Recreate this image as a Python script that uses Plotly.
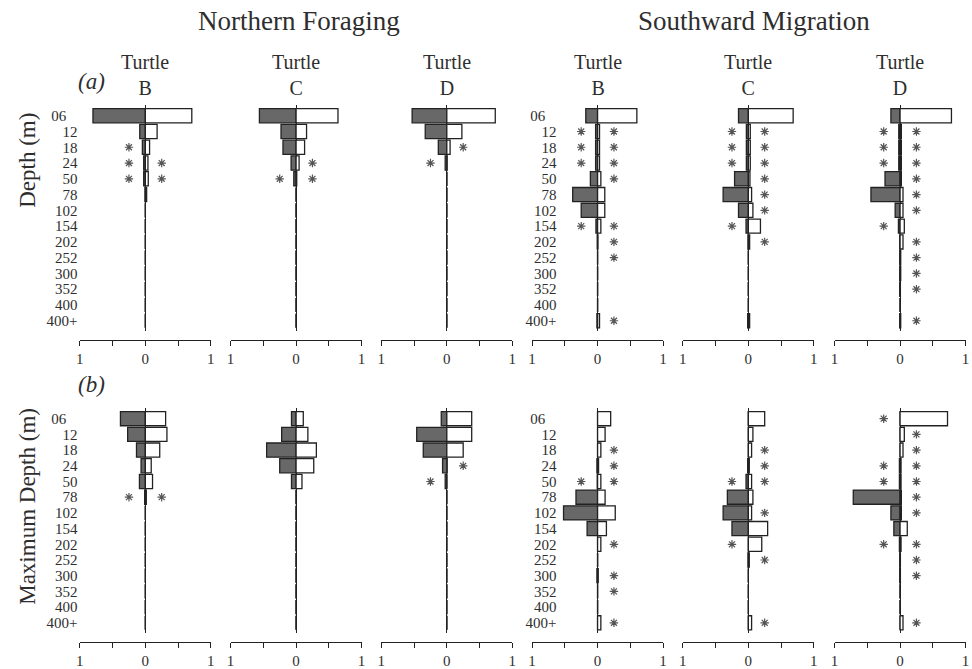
import plotly.graph_objects as go

# ---------------- data ----------------
depth_bins = ["06", "12", "18", "24", "50", "78", "102", "154", "202", "252", "300", "352", "400", "400+"]
depth_tick_labels = ["06\u00a0\u00a0\u00a0", "12", "18", "24", "50", "78", "102", "154", "202", "252",
                     "300", "352", "400", "400+"]
phases = ["Northern Foraging", "Southward Migration"]
turtles = ["B", "C", "D"]
row_titles = ["Depth (m)", "Maximum Depth (m)"]
row_tags = ["(a)", "(b)"]
x_tick_vals = [-1, -0.5, 0, 0.5, 1]
x_tick_text = ["1", "", "0", "", "1"]

# (a) Depth -- gray bars (left) and white bars (right)
a_nf_b_gray = [0.80, 0.085, 0.045, 0.025, 0.025, 0.005, 0, 0, 0, 0, 0, 0, 0, 0]
a_nf_b_white = [0.71, 0.18, 0.065, 0.04, 0.045, 0.02, 0, 0, 0, 0, 0, 0, 0, 0]
a_nf_c_gray = [0.56, 0.23, 0.20, 0.076, 0.035, 0, 0, 0, 0, 0, 0, 0, 0, 0]
a_nf_c_white = [0.64, 0.16, 0.13, 0.046, 0.01, 0, 0, 0, 0, 0, 0, 0, 0, 0]
a_nf_d_gray = [0.53, 0.33, 0.13, 0.025, 0, 0, 0, 0, 0, 0, 0, 0, 0, 0]
a_nf_d_white = [0.74, 0.23, 0.05, 0.005, 0, 0, 0, 0, 0, 0, 0, 0, 0, 0]
a_sm_b_gray = [0.18, 0.03, 0.03, 0.03, 0.11, 0.38, 0.25, 0.025, 0.005, 0, 0, 0, 0, 0.01]
a_sm_b_white = [0.60, 0.03, 0.03, 0.03, 0.05, 0.11, 0.11, 0.05, 0.005, 0, 0, 0, 0, 0.03]
a_sm_c_gray = [0.15, 0.03, 0.03, 0.03, 0.21, 0.385, 0.15, 0.035, 0.005, 0, 0, 0, 0, 0.01]
a_sm_c_white = [0.685, 0.03, 0.03, 0.03, 0.025, 0.05, 0.07, 0.185, 0.02, 0, 0, 0, 0, 0.02]
a_sm_d_gray = [0.14, 0.02, 0.02, 0.02, 0.23, 0.445, 0.075, 0.025, 0.005, 0.005, 0.005, 0.005, 0, 0.005]
a_sm_d_white = [0.785, 0.02, 0.02, 0.02, 0.02, 0.045, 0.045, 0.065, 0.045, 0.01, 0.01, 0.005, 0, 0.01]

# (b) Maximum depth
b_nf_b_gray = [0.38, 0.27, 0.135, 0.065, 0.09, 0.01, 0, 0, 0, 0, 0, 0, 0, 0]
b_nf_b_white = [0.31, 0.33, 0.22, 0.09, 0.11, 0.015, 0, 0, 0, 0, 0, 0, 0, 0]
b_nf_c_gray = [0.07, 0.22, 0.45, 0.25, 0.07, 0, 0, 0, 0, 0, 0, 0, 0, 0]
b_nf_c_white = [0.11, 0.18, 0.31, 0.27, 0.09, 0, 0, 0, 0, 0, 0, 0, 0, 0]
b_nf_d_gray = [0.085, 0.46, 0.36, 0.065, 0.025, 0, 0, 0, 0, 0, 0, 0, 0, 0]
b_nf_d_white = [0.38, 0.38, 0.25, 0.005, 0, 0, 0, 0, 0, 0, 0, 0, 0, 0]
b_sm_b_gray = [0, 0, 0, 0.01, 0.005, 0.33, 0.52, 0.16, 0, 0, 0.01, 0, 0, 0]
b_sm_b_white = [0.20, 0.115, 0.05, 0.015, 0.05, 0.115, 0.27, 0.135, 0.05, 0, 0.01, 0, 0, 0.05]
b_sm_c_gray = [0, 0, 0, 0.01, 0.035, 0.32, 0.385, 0.25, 0, 0.005, 0, 0, 0, 0]
b_sm_c_white = [0.25, 0.07, 0.05, 0.015, 0.05, 0.07, 0.05, 0.295, 0.205, 0.015, 0, 0, 0, 0.05]
b_sm_d_gray = [0, 0, 0, 0.01, 0.01, 0.715, 0.14, 0.095, 0.01, 0.005, 0.005, 0, 0, 0]
b_sm_d_white = [0.725, 0.065, 0.045, 0.015, 0.015, 0.02, 0.02, 0.11, 0.015, 0.005, 0.005, 0, 0, 0.045]

# asterisk markers (categories flagged on the gray / white side)
a_nf_b_star_l = ["18", "24", "50"]
a_nf_b_star_r = ["24", "50"]
a_nf_c_star_l = ["50"]
a_nf_c_star_r = ["24", "50"]
a_nf_d_star_l = ["24"]
a_nf_d_star_r = ["18"]
a_sm_b_star_l = ["12", "18", "24", "154"]
a_sm_b_star_r = ["12", "18", "24", "50", "154", "202", "252", "400+"]
a_sm_c_star_l = ["12", "18", "24", "154"]
a_sm_c_star_r = ["12", "18", "24", "50", "78", "102", "202"]
a_sm_d_star_l = ["12", "18", "24", "154"]
a_sm_d_star_r = ["12", "18", "24", "50", "78", "102", "202", "252", "300", "352", "400+"]

b_nf_b_star_l = ["78"]
b_nf_b_star_r = ["78"]
b_nf_c_star_l = []
b_nf_c_star_r = []
b_nf_d_star_l = ["50"]
b_nf_d_star_r = ["24"]
b_sm_b_star_l = ["50"]
b_sm_b_star_r = ["18", "24", "50", "202", "300", "352", "400+"]
b_sm_c_star_l = ["50", "202"]
b_sm_c_star_r = ["18", "24", "50", "102", "252", "400+"]
b_sm_d_star_l = ["06", "24", "50", "202"]
b_sm_d_star_r = ["12", "18", "24", "50", "78", "102", "202", "252", "300", "400+"]

panels = [
    (a_nf_b_gray, a_nf_b_white, a_nf_b_star_l, a_nf_b_star_r),
    (a_nf_c_gray, a_nf_c_white, a_nf_c_star_l, a_nf_c_star_r),
    (a_nf_d_gray, a_nf_d_white, a_nf_d_star_l, a_nf_d_star_r),
    (a_sm_b_gray, a_sm_b_white, a_sm_b_star_l, a_sm_b_star_r),
    (a_sm_c_gray, a_sm_c_white, a_sm_c_star_l, a_sm_c_star_r),
    (a_sm_d_gray, a_sm_d_white, a_sm_d_star_l, a_sm_d_star_r),
    (b_nf_b_gray, b_nf_b_white, b_nf_b_star_l, b_nf_b_star_r),
    (b_nf_c_gray, b_nf_c_white, b_nf_c_star_l, b_nf_c_star_r),
    (b_nf_d_gray, b_nf_d_white, b_nf_d_star_l, b_nf_d_star_r),
    (b_sm_b_gray, b_sm_b_white, b_sm_b_star_l, b_sm_b_star_r),
    (b_sm_c_gray, b_sm_c_white, b_sm_c_star_l, b_sm_c_star_r),
    (b_sm_d_gray, b_sm_d_white, b_sm_d_star_l, b_sm_d_star_r),
]
STAR_OFFSET = 0.25

# ---------------- layout geometry (window pixels) ----------------
W, H = 972, 669

def fx(px):
    return px / W

def fy(py):
    return 1 - py / H

col_left = [76.5, 228.5, 380.5, 532.5, 684.5, 837.5]
col_w = 132
rows_px = [(105, 331, 340), (408, 633, 642)]  # plot top, plot bottom, x-axis line
label_pos = {0: 74, 3: 557}

FONT = "Liberation Serif"
INK = "#222222"
TXT = "#2e2e2e"
GRAY = "#686868"

fig = go.Figure()
layout_axes = {}

for i, (gray, white, star_l, star_r) in enumerate(panels):
    r, c = divmod(i, 6)
    n = i + 1
    xa = "x" if n == 1 else f"x{n}"
    ya = "y" if n == 1 else f"y{n}"
    fig.add_trace(go.Bar(
        x=[-v for v in gray], y=depth_bins, orientation="h",
        marker=dict(color=GRAY, line=dict(color=INK, width=1.3)),
        xaxis=xa, yaxis=ya, hoverinfo="x+y"))
    fig.add_trace(go.Bar(
        x=white, y=depth_bins, orientation="h",
        marker=dict(color="white", line=dict(color=INK, width=1.3)),
        xaxis=xa, yaxis=ya, hoverinfo="x+y"))
    sx = [-STAR_OFFSET] * len(star_l) + [STAR_OFFSET] * len(star_r)
    sy = list(star_l) + list(star_r)
    if sy:
        fig.add_trace(go.Scatter(
            x=sx, y=sy, mode="markers",
            marker=dict(symbol="asterisk-open", size=7, color="#555555",
                        line=dict(color="#555555", width=1.2)),
            xaxis=xa, yaxis=ya, hoverinfo="skip"))

    top, bot, axis_y = rows_px[r]
    x0 = col_left[c]
    layout_axes["xaxis" if n == 1 else f"xaxis{n}"] = dict(
        domain=[fx(x0), fx(x0 + col_w)], range=[-1, 1],
        anchor="free", position=fy(axis_y),
        showline=True, linecolor=INK, linewidth=1.3,
        ticks="outside", ticklen=5, tickwidth=1.2, tickcolor=INK,
        tickvals=x_tick_vals, ticktext=x_tick_text,
        tickfont=dict(family=FONT, size=15, color=TXT),
        zeroline=True, zerolinecolor=INK, zerolinewidth=1.3,
        showgrid=False, fixedrange=True)
    layout_axes["yaxis" if n == 1 else f"yaxis{n}"] = dict(
        domain=[fy(bot), fy(top)],
        type="category", categoryorder="array", categoryarray=depth_bins,
        range=[13.65, -0.68],
        showgrid=False, zeroline=False, showline=False, ticks="",
        showticklabels=c in label_pos,
        tickvals=depth_bins, ticktext=depth_tick_labels,
        tickfont=dict(family=FONT, size=15, color=TXT),
        anchor="free", position=fx(label_pos.get(c, x0)),
        fixedrange=True)

annotations = []
def ann(text, px, py, size, angle=0):
    annotations.append(dict(text=text, x=fx(px), y=fy(py), xref="paper", yref="paper",
                            xanchor="center", yanchor="middle", showarrow=False,
                            textangle=angle, font=dict(family=FONT, size=size, color=TXT)))

ann(phases[0], 297, 21, 27)
ann(phases[1], 756, 21, 27)
for c in range(6):
    zx = col_left[c] + col_w / 2
    ann("Turtle<br>" + turtles[c % 3], zx, 75, 20)
ann("<i>" + row_tags[0] + "</i>", 88, 82, 23)
ann("<i>" + row_tags[1] + "</i>", 88, 384, 23)
ann(row_titles[0], 23, 160, 23, -90)
ann(row_titles[1], 23, 506, 23, -90)

fig.update_layout(
    width=W, height=H, margin=dict(l=0, r=0, t=0, b=0),
    barmode="relative", bargap=0.1, showlegend=False,
    plot_bgcolor="white", paper_bgcolor="white",
    annotations=annotations, **layout_axes)

# the html page's default 8px body margin would push the 972x669 figure off the window
fig.write_html("out.html", config={"displayModeBar": False},
               post_script="document.body.style.margin='0px';")
